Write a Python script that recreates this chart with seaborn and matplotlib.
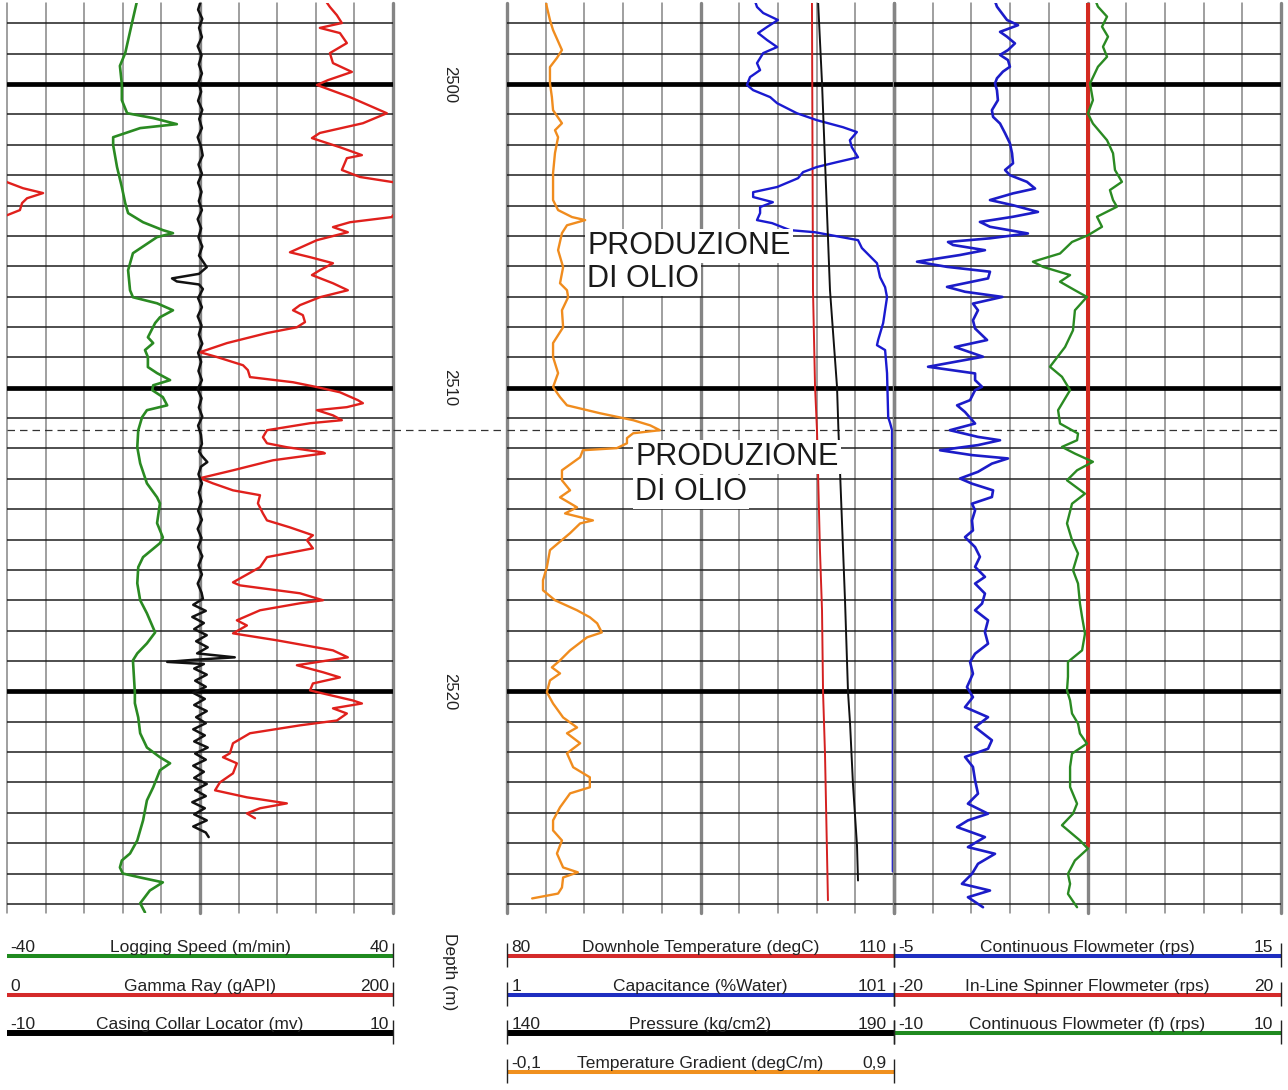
import numpy as np
import pandas as pd
import matplotlib.pyplot as plt
import seaborn as sns

# ---- curves: (depth m, value) ----
logging_speed = [
    (2497.23, -13.0), (2497.99, -14.1), (2498.98, -15.5), (2499.40, -16.6), (2500.00, -16.2),
    (2500.53, -16.2), (2500.96, -15.1), (2501.12, -9.7), (2501.32, -4.8), (2501.45, -12.4),
    (2501.75, -18.0), (2502.01, -18.0), (2502.73, -17.2), (2503.39, -16.2), (2503.92, -15.5),
    (2504.25, -14.9), (2504.55, -11.8), (2504.81, -7.7), (2504.91, -5.6), (2505.04, -8.9),
    (2505.57, -13.9), (2506.13, -14.9), (2506.79, -14.5), (2507.02, -13.9), (2507.22, -8.9),
    (2507.45, -5.6), (2507.68, -8.3), (2507.87, -9.3), (2508.34, -10.8), (2508.53, -9.7),
    (2508.76, -11.4), (2508.99, -10.8), (2509.32, -10.8), (2509.52, -8.9), (2509.75, -6.2),
    (2509.92, -9.7), (2510.08, -9.9), (2510.31, -7.7), (2510.58, -6.8), (2510.74, -11.0),
    (2510.97, -12.0), (2511.40, -12.8), (2511.96, -13.0), (2512.49, -12.4), (2513.15, -11.0),
    (2513.61, -8.9), (2513.81, -8.3), (2514.46, -8.9), (2514.93, -7.7), (2515.12, -8.3),
    (2515.58, -11.8), (2515.91, -12.8), (2516.44, -13.0), (2517.00, -12.4), (2517.43, -11.0),
    (2518.06, -9.3), (2518.42, -11.0), (2518.75, -13.0), (2518.98, -13.9), (2520.03, -13.5),
    (2520.39, -13.5), (2520.86, -12.8), (2521.38, -12.4), (2521.85, -11.0), (2522.17, -8.3),
    (2522.37, -6.2), (2522.60, -8.3), (2523.16, -9.7), (2523.59, -11.0), (2524.25, -11.8),
    (2524.91, -13.0), (2525.34, -14.5), (2525.57, -16.2), (2525.80, -16.6), (2526.00, -16.0),
    (2526.13, -12.4), (2526.29, -7.7), (2526.56, -10.4), (2526.98, -12.4), (2527.28, -11.4),
]

# values above 200 gAPI are shown wrapped on the backup scale
gamma_ray = [
    (2497.25, 165.0), (2497.46, 167.3), (2497.73, 170.9), (2497.99, 173.5), (2498.15, 162.1),
    (2498.32, 172.5), (2498.65, 176.1), (2498.98, 167.3), (2499.31, 168.9), (2499.60, 178.7),
    (2499.87, 166.3), (2500.03, 160.6), (2500.43, 177.7), (2500.76, 189.6), (2500.96, 196.8),
    (2501.29, 184.4), (2501.61, 162.1), (2501.78, 158.0), (2502.08, 172.5), (2502.34, 183.9),
    (2502.44, 176.1), (2502.83, 173.5), (2503.06, 182.9), (2503.23, 200.0), (2503.43, 208.3),
    (2503.59, 218.7), (2503.76, 210.4), (2503.92, 207.8), (2504.15, 206.7), (2504.32, 200.0),
    (2504.38, 199.4), (2504.55, 177.7), (2504.71, 168.9), (2504.88, 176.6), (2505.14, 160.6),
    (2505.54, 146.6), (2505.70, 157.0), (2505.90, 168.9), (2506.13, 162.1), (2506.29, 158.0),
    (2506.56, 168.9), (2506.79, 176.6), (2507.02, 162.1), (2507.28, 151.8), (2507.45, 148.2),
    (2507.61, 153.3), (2507.84, 154.4), (2508.01, 150.2), (2508.20, 134.7), (2508.53, 114.0),
    (2508.83, 100.0), (2508.99, 108.8), (2509.26, 122.3), (2509.42, 124.8), (2509.65, 125.9),
    (2509.82, 148.2), (2509.98, 160.6), (2510.15, 172.5), (2510.41, 181.8), (2510.51, 184.4),
    (2510.64, 176.1), (2510.74, 160.6), (2510.91, 168.9), (2511.07, 173.5), (2511.17, 157.0),
    (2511.40, 134.7), (2511.63, 132.6), (2511.83, 134.7), (2511.96, 145.0), (2512.13, 163.7),
    (2512.16, 164.7), (2512.39, 137.8), (2512.72, 117.1), (2512.98, 100.0), (2513.15, 106.7),
    (2513.38, 117.1), (2513.54, 131.1), (2513.81, 130.0), (2514.14, 132.6), (2514.37, 134.7),
    (2514.60, 146.6), (2514.86, 158.5), (2515.02, 155.4), (2515.29, 158.5), (2515.58, 134.7),
    (2515.91, 131.1), (2516.41, 117.1), (2516.51, 120.7), (2516.77, 151.8), (2517.00, 163.7),
    (2517.10, 151.8), (2517.33, 131.1), (2517.66, 119.1), (2517.83, 124.3), (2518.09, 117.1),
    (2518.32, 139.9), (2518.65, 168.9), (2518.88, 176.6), (2519.14, 150.2), (2519.37, 163.7),
    (2519.54, 172.5), (2519.74, 158.5), (2519.97, 157.0), (2520.30, 179.2), (2520.40, 183.9),
    (2520.56, 168.9), (2520.73, 176.1), (2520.96, 170.9), (2521.12, 151.8), (2521.38, 125.9),
    (2521.71, 117.1), (2522.04, 115.5), (2522.17, 111.9), (2522.37, 119.1), (2522.70, 117.1),
    (2523.00, 110.3), (2523.26, 107.8), (2523.49, 124.3), (2523.69, 145.0), (2523.85, 131.1),
    (2524.02, 124.3), (2524.18, 128.5),
]

collar_locator = [
    (2497.25, 0.05), (2497.55, -0.10), (2497.85, 0.12), (2498.15, -0.05), (2498.45, 0.10),
    (2498.75, -0.12), (2499.05, 0.08), (2499.35, -0.06), (2499.65, 0.10), (2499.95, -0.08),
    (2500.25, 0.06), (2500.55, -0.10), (2500.85, 0.12), (2501.15, -0.04), (2501.45, 0.10),
    (2501.75, -0.12), (2502.05, 0.05), (2502.35, 0.14), (2502.65, -0.08), (2502.95, 0.10),
    (2503.25, -0.10), (2503.55, 0.08), (2503.85, -0.06), (2504.15, 0.10), (2504.45, -0.12),
    (2504.75, 0.06), (2505.05, -0.08), (2505.35, 0.12), (2505.65, -0.05), (2506.03, 0.35),
    (2506.25, -0.05), (2506.40, -1.45), (2506.50, -1.20), (2506.60, -0.05), (2506.75, 0.15),
    (2507.05, -0.10), (2507.35, 0.10), (2507.65, -0.12), (2507.95, 0.08), (2508.25, -0.06),
    (2508.55, 0.12), (2508.85, -0.10), (2509.15, 0.06), (2509.45, -0.08), (2509.75, 0.10),
    (2510.05, -0.12), (2510.35, 0.08), (2510.65, -0.06), (2510.95, 0.12), (2511.25, -0.10),
    (2511.55, 0.05), (2511.85, 0.10), (2512.10, -0.05), (2512.25, 0.10), (2512.45, 0.38),
    (2512.60, 0.05), (2512.85, -0.08), (2513.15, 0.10), (2513.45, -0.06), (2513.75, 0.08),
    (2514.05, -0.10), (2514.35, 0.10), (2514.65, -0.12), (2514.95, 0.08), (2515.25, -0.10),
    (2515.55, 0.12), (2515.85, -0.08), (2516.15, 0.10), (2516.45, -0.12), (2516.75, 0.08),
    (2516.95, 0.15), (2517.15, -0.35), (2517.35, 0.30), (2517.55, -0.40), (2517.75, 0.20),
    (2517.95, -0.30), (2518.15, 0.35), (2518.35, -0.20), (2518.55, 0.40), (2518.75, -0.15),
    (2518.88, 1.80), (2518.96, -0.30), (2519.03, -1.70), (2519.10, 0.20), (2519.25, -0.30),
    (2519.45, 0.35), (2519.65, -0.25), (2519.85, 0.30), (2520.05, -0.35), (2520.25, 0.25),
    (2520.45, -0.30), (2520.65, 0.35), (2520.85, -0.20), (2521.05, 0.30), (2521.25, -0.35),
    (2521.45, 0.25), (2521.65, -0.30), (2521.85, 0.40), (2522.05, -0.25), (2522.25, 0.30),
    (2522.45, -0.35), (2522.65, 0.20), (2522.85, -0.30), (2523.05, 0.35), (2523.25, -0.25),
    (2523.45, 0.30), (2523.65, -0.40), (2523.85, 0.25), (2524.05, -0.30), (2524.25, 0.35),
    (2524.45, -0.35), (2524.65, 0.30), (2524.80, 0.45),
]

downhole_temp = [
    (2497.23, 103.64), (2506.79, 103.72), (2509.98, 103.88), (2511.40, 104.03), (2515.35, 104.26),
    (2517.33, 104.42), (2520.03, 104.50), (2522.04, 104.65), (2526.88, 104.88),
]

capacitance = [
    (2497.23, 65.0), (2497.46, 65.6), (2497.66, 67.2), (2497.89, 71.0), (2498.12, 68.2),
    (2498.32, 65.9), (2498.55, 68.2), (2498.78, 70.8), (2498.98, 67.2), (2499.31, 65.6),
    (2499.54, 66.4), (2499.77, 63.8), (2500.03, 63.0), (2500.20, 64.6), (2500.43, 69.0),
    (2500.63, 70.8), (2500.96, 75.9), (2501.19, 81.1), (2501.42, 87.8), (2501.58, 91.4),
    (2501.85, 89.6), (2502.08, 90.1), (2502.41, 91.7), (2502.57, 86.3), (2502.73, 81.1),
    (2502.90, 77.5), (2503.10, 76.2), (2503.39, 70.8), (2503.56, 64.6), (2503.72, 64.6),
    (2503.89, 69.7), (2504.05, 66.4), (2504.25, 66.4), (2504.48, 65.6), (2504.58, 69.5),
    (2504.81, 74.1), (2504.88, 80.6), (2505.14, 91.7), (2505.40, 92.7), (2505.90, 96.6),
    (2506.36, 97.4), (2506.69, 98.7), (2507.02, 99.2), (2507.87, 98.2), (2508.43, 96.9),
    (2508.60, 96.6), (2508.76, 98.7), (2509.52, 99.2), (2510.97, 99.5), (2511.17, 100.0),
    (2511.40, 100.5), (2517.00, 100.5), (2520.00, 100.7), (2525.93, 100.7),
]

pressure = [
    (2497.23, 180.18), (2499.97, 180.70), (2506.79, 181.73), (2509.98, 182.64), (2511.40, 182.82),
    (2517.00, 183.67), (2520.03, 184.06), (2521.05, 184.32), (2523.06, 184.70), (2525.08, 185.22),
    (2526.23, 185.35),
]

temp_gradient = [
    (2497.23, 0.000), (2497.46, 0.003), (2497.89, 0.011), (2498.22, 0.019), (2498.88, 0.042),
    (2499.14, 0.029), (2499.44, 0.011), (2499.97, 0.011), (2500.43, 0.016), (2500.86, 0.019),
    (2501.29, 0.042), (2501.52, 0.024), (2501.75, 0.032), (2502.27, 0.024), (2502.93, 0.019),
    (2503.82, 0.019), (2504.15, 0.032), (2504.38, 0.068), (2504.48, 0.102), (2504.65, 0.055),
    (2504.91, 0.042), (2505.47, 0.032), (2506.03, 0.045), (2506.56, 0.037), (2506.79, 0.055),
    (2507.02, 0.058), (2507.45, 0.042), (2508.01, 0.045), (2508.53, 0.019), (2508.99, 0.019),
    (2509.52, 0.032), (2509.98, 0.019), (2510.31, 0.037), (2510.58, 0.055), (2510.84, 0.140),
    (2511.07, 0.226), (2511.24, 0.270), (2511.40, 0.295), (2511.50, 0.226), (2511.66, 0.210),
    (2511.83, 0.210), (2511.99, 0.184), (2512.06, 0.096), (2512.29, 0.089), (2512.72, 0.042),
    (2513.05, 0.042), (2513.38, 0.063), (2513.61, 0.037), (2513.94, 0.081), (2514.14, 0.050),
    (2514.37, 0.122), (2514.47, 0.089), (2514.79, 0.063), (2515.35, 0.011), (2515.91, 0.003),
    (2516.34, -0.007), (2516.67, -0.007), (2517.00, 0.024), (2517.33, 0.081), (2517.56, 0.114),
    (2517.76, 0.133), (2518.06, 0.145), (2518.22, 0.107), (2518.65, 0.063), (2518.98, 0.037),
    (2519.21, 0.016), (2519.41, 0.037), (2519.64, 0.011), (2520.03, 0.003), (2520.40, 0.019),
    (2520.86, 0.045), (2521.19, 0.081), (2521.38, 0.055), (2521.71, 0.089), (2522.04, 0.055),
    (2522.50, 0.071), (2522.83, 0.114), (2523.16, 0.114), (2523.36, 0.063), (2523.82, 0.037),
    (2524.25, 0.019), (2524.58, 0.019), (2524.91, 0.042), (2525.34, 0.029), (2525.80, 0.045),
    (2525.96, 0.083), (2526.13, 0.045), (2526.46, 0.042), (2526.66, 0.032), (2526.82, -0.035),
]

cont_flowmeter = [
    (2497.23, 0.20), (2497.45, 0.32), (2497.67, 0.58), (2497.89, 0.84), (2498.06, 1.41),
    (2498.28, 0.48), (2498.44, 0.84), (2498.66, 1.25), (2498.88, 0.89), (2499.04, 0.48),
    (2499.21, 0.89), (2499.43, 0.99), (2499.59, 0.63), (2499.81, 0.32), (2499.98, 0.22),
    (2500.20, 0.32), (2500.53, 0.37), (2500.86, 0.06), (2501.08, 0.12), (2501.30, 0.48),
    (2501.62, 0.74), (2501.95, 0.99), (2502.28, 1.10), (2502.61, 1.15), (2502.83, 0.74),
    (2503.00, 0.99), (2503.22, 1.87), (2503.44, 2.29), (2503.60, 1.15), (2503.82, -0.04),
    (2503.99, 1.15), (2504.21, 2.44), (2504.37, 1.15), (2504.54, -0.56), (2504.70, -0.04),
    (2504.92, 1.92), (2505.08, -0.04), (2505.20, -2.21), (2505.30, -1.95), (2505.47, -0.30),
    (2505.63, -1.59), (2505.85, -3.81), (2506.02, -2.26), (2506.18, -0.04), (2506.40, -0.14),
    (2506.68, -2.26), (2506.84, -1.33), (2507.01, 0.60), (2507.23, -0.92), (2507.45, -0.66),
    (2507.78, -0.92), (2508.05, -0.81), (2508.43, -0.19), (2508.66, -1.85), (2508.98, -0.40),
    (2509.31, -3.24), (2509.53, -0.81), (2509.75, -0.81), (2509.97, -0.45), (2510.08, -0.81),
    (2510.41, -1.07), (2510.58, -1.74), (2510.80, -1.33), (2511.18, -0.81), (2511.40, -2.11),
    (2511.62, -0.66), (2511.73, 0.48), (2511.89, -0.66), (2512.06, -2.62), (2512.22, -0.97),
    (2512.33, 0.89), (2512.50, 0.06), (2512.77, -0.66), (2512.99, -1.59), (2513.16, -0.97),
    (2513.38, 0.12), (2513.60, 0.06), (2513.82, -0.97), (2514.04, -0.81), (2514.37, -0.97),
    (2514.70, -0.92), (2514.92, -1.33), (2515.25, -0.81), (2515.57, -0.56), (2515.90, -0.81),
    (2516.23, -0.30), (2516.45, -0.81), (2516.78, -0.30), (2517.11, -0.45), (2517.33, -0.81),
    (2517.66, -0.14), (2518.05, -0.30), (2518.43, -0.14), (2518.76, -0.81), (2519.03, -1.07),
    (2519.42, -0.92), (2519.86, -1.23), (2520.19, -0.92), (2520.52, -1.33), (2520.85, -0.14),
    (2521.18, -0.81), (2521.61, 0.06), (2521.89, -0.14), (2522.16, -1.33), (2522.49, -0.92),
    (2522.93, -0.81), (2523.37, -0.66), (2523.70, -1.18), (2524.03, -0.14), (2524.25, -1.18),
    (2524.47, -1.74), (2524.80, -0.30), (2525.13, -1.18), (2525.35, 0.22), (2525.68, -0.66),
    (2526.01, -0.97), (2526.34, -1.49), (2526.56, -0.04), (2526.78, -1.18), (2527.11, -0.40),
]

spinner = [(2497.23, 0.0), (2525.10, 0.0)]

cont_flowmeter_f = [
    (2497.23, 0.40), (2497.45, 0.54), (2497.78, 1.01), (2498.11, 0.75), (2498.44, 1.06),
    (2498.77, 0.80), (2499.10, 1.01), (2499.43, 0.54), (2499.98, 0.13), (2500.53, 0.28),
    (2500.97, 0.02), (2501.30, 0.28), (2501.85, 1.01), (2502.28, 1.32), (2502.83, 1.42),
    (2503.22, 1.78), (2503.49, 1.16), (2503.82, 1.32), (2504.04, 1.52), (2504.37, 0.49),
    (2504.70, 0.75), (2504.98, 0.02), (2505.20, -0.80), (2505.58, -1.42), (2505.85, -2.82),
    (2506.02, -2.30), (2506.29, -0.90), (2506.51, -1.42), (2506.79, -0.65), (2507.01, -0.03),
    (2507.45, -0.65), (2508.11, -0.75), (2508.66, -1.16), (2509.31, -1.94), (2509.64, -1.32),
    (2510.08, -0.90), (2510.74, -1.52), (2511.18, -1.42), (2511.51, -0.49), (2511.73, -0.54),
    (2511.95, -1.32), (2512.17, -0.65), (2512.44, 0.28), (2512.72, -0.54), (2513.05, -1.06),
    (2513.49, -0.13), (2513.82, -0.80), (2514.47, -1.06), (2515.02, -0.80), (2515.46, -0.49),
    (2516.01, -0.75), (2516.45, -0.49), (2517.11, -0.39), (2517.55, -0.28), (2518.10, -0.13),
    (2518.65, -0.28), (2519.03, -1.01), (2519.52, -1.01), (2519.97, -1.06), (2520.30, -0.90),
    (2520.73, -0.80), (2521.06, -0.49), (2521.39, -0.39), (2521.72, -0.03), (2522.05, -0.80),
    (2522.49, -0.90), (2523.15, -0.90), (2523.70, -0.54), (2524.03, -0.75), (2524.41, -1.32),
    (2524.69, -0.80), (2524.91, -0.39), (2525.18, 0.02), (2525.57, -0.65), (2526.01, -1.01),
    (2526.34, -0.90), (2526.67, -1.01), (2527.11, -0.54),
]

depth_labels = [2500, 2510, 2520]
dashed_depth = 2511.4
annotations = [  # (text, baseline depth, left edge as track fraction)
    ("PRODUZIONE", 2505.60, 0.207), ("DI OLIO", 2506.69, 0.207),
    ("PRODUZIONE", 2512.55, 0.331), ("DI OLIO", 2513.71, 0.331),
]

# legend rows: (min, name, max, colour)
legend_left = [
    ("-40", "Logging Speed (m/min)", "40", "#1f8a1f"),
    ("0", "Gamma Ray (gAPI)", "200", "#d42a2a"),
    ("-10", "Casing Collar Locator (mv)", "10", "black"),
]
legend_mid = [
    ("80", "Downhole Temperature (degC)", "110", "#d42a2a"),
    ("1", "Capacitance (%Water)", "101", "#1e2ec0"),
    ("140", "Pressure (kg/cm2)", "190", "black"),
    ("-0,1", "Temperature Gradient (degC/m)", "0,9", "#f0901e"),
]
legend_right = [
    ("-5", "Continuous Flowmeter (rps)", "15", "#1e2ec0"),
    ("-20", "In-Line Spinner Flowmeter (rps)", "20", "#d42a2a"),
    ("-10", "Continuous Flowmeter (f) (rps)", "10", "#1f8a1f"),
]

sns.set_theme(style="white")
plt.rcParams['font.family'] = ['Liberation Sans', 'DejaVu Sans']

W, H = 1288, 1090
fig = plt.figure(figsize=(W / 100, H / 100), dpi=100)
TOP, BOT = 2497.33, 2527.3


def px_axes(x0, x1, y0, y1):
    return fig.add_axes([x0 / W, 1 - y1 / H, (x1 - x0) / W, (y1 - y0) / H])


def track(x0, x1):
    ax = px_axes(x0, x1, 3, 913)
    ax.set_xlim(0, 10)
    ax.set_ylim(BOT, TOP)
    ax.set_axis_off()
    for i in range(11):
        thick = i in (5, 10) or (i == 0 and x0 > 100)
        ax.axvline(i, color='#858585', lw=2.4 if thick else 1.1, zorder=1, clip_on=False)
    for d in range(2498, 2528):
        major = d % 10 == 0
        ax.axhline(d, color='black' if major else '#1e1e1e', lw=3.4 if major else 1.1, zorder=2)
    ax.axhline(dashed_depth, color='#333333', lw=0.9, ls=(0, (6, 4)), zorder=5)
    return ax


def curve(ax, data, lo, hi, color, lw, units=None):
    tw = ax.twiny()
    df = pd.DataFrame(data, columns=['depth', 'value'])
    if units is not None:
        df['seg'] = units
        sns.lineplot(data=df, x='value', y='depth', units='seg', estimator=None, sort=False,
                     orient='y', color=color, lw=lw, ax=tw)
    else:
        sns.lineplot(data=df, x='value', y='depth', estimator=None, sort=False,
                     orient='y', color=color, lw=lw, ax=tw)
    tw.set_xlim(lo, hi)
    tw.set_ylim(BOT, TOP)
    tw.set_axis_off()
    return tw


# ---- left track ----
tl = track(7, 393)
curve(tl, logging_speed, -40, 40, '#2a8a22', 1.9)
gr = np.array(gamma_ray)
main = gr[:, 1] <= 200
seg = np.cumsum(~main)
curve(tl, gr[main], 0, 200, '#e0201c', 1.7, units=seg[main])
wrap = gr[:, 1] >= 200
curve(tl, np.column_stack([gr[wrap, 0], gr[wrap, 1] - 200]), 0, 200, '#e0201c', 1.7)
curve(tl, collar_locator, -10, 10, '#111111', 1.8)

# ---- depth track ----
dax = px_axes(393, 507, 3, 913)
dax.set_ylim(BOT, TOP)
dax.set_xlim(0, 1)
dax.set_axis_off()
dax.axhline(dashed_depth, color='#333333', lw=0.9, ls=(0, (6, 4)))
for d in depth_labels:
    dax.text(0.5, d, str(d), transform=dax.get_yaxis_transform(), rotation=270,
             ha='center', va='center', fontsize=12, color='#222222')

# ---- middle track ----
tm = track(507, 894)
curve(tm, temp_gradient, -0.1, 0.9, '#f08c1e', 1.7)
curve(tm, downhole_temp, 80, 110, '#d42020', 1.4)
curve(tm, capacitance, 1, 101, '#1a1ad0', 1.7)
curve(tm, pressure, 140, 190, '#111111', 1.4)
ov = tm.twiny()
ov.set_ylim(BOT, TOP)
ov.set_axis_off()
for txt, d, xf in annotations:
    ov.text(xf, d, txt, transform=ov.get_yaxis_transform(), ha='left', va='baseline',
            fontsize=22, color='#1a1a1a', zorder=10,
            bbox=dict(facecolor='white', edgecolor='none', pad=1.5))

# ---- right track ----
tr = track(894, 1281)
curve(tr, cont_flowmeter, -5, 15, '#1c1cc8', 1.9)
curve(tr, spinner, -20, 20, '#d42a20', 2.9)
curve(tr, cont_flowmeter_f, -10, 10, '#2a8a22', 1.7)


# ---- scale legends ----
def legend(x0, x1, rows, left_tick, right_x):
    lg = px_axes(x0, x1, 930, 1090)
    lg.set_xlim(0, 1)
    lg.set_ylim(160, 0)
    lg.set_axis_off()
    for i, (lo, name, hi, color) in enumerate(rows):
        yl = 26 + 38.7 * i
        lw = 4.3 if color == 'black' else 2.9
        lg.axhline(yl, 0, 1, color=color, lw=lw, solid_capstyle='butt', clip_on=False)
        ticks = [0, 1] if left_tick else [1]
        lg.vlines(ticks, yl - 13, yl + 11, color='#222222', lw=1, clip_on=False)
        lg.text(0.012 if left_tick else 0.008, yl - 4, lo, ha='left', va='baseline',
                fontsize=12.5, color='#222222')
        lg.text(0.5, yl - 4, name, ha='center', va='baseline', fontsize=12.5, color='#222222')
        lg.text(right_x, yl - 4, hi, ha='right', va='baseline', fontsize=12.5, color='#222222')


legend(7, 393, legend_left, False, 0.99)
legend(507, 894, legend_mid, True, 0.98)
legend(894, 1281, legend_right, True, 0.98)

fig.text(450 / W, 1 - 972 / H, "Depth (m)", rotation=270, ha='center', va='center',
         fontsize=12.5, color='#222222')

fig.savefig("out.png", dpi=100, facecolor='white')
